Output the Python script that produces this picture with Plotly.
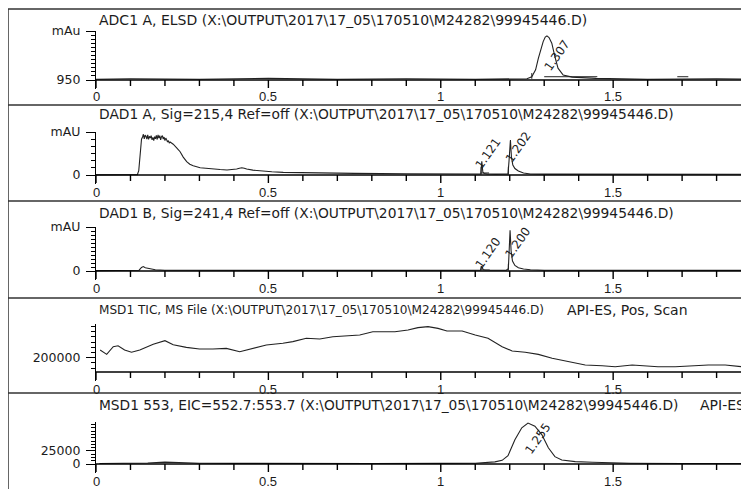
import math
import plotly.graph_objects as go

# the page body adds an 8px margin, so the figure covers the window from (8, 8)
OFF = 8
W, H = 749 - OFF, 489 - OFF

# ---------------- data ----------------
path = r"(X:\OUTPUT\2017\17_05\170510\M24282\99945446.D)"
titles = [
    "ADC1 A, ELSD " + path,
    "DAD1 A, Sig=215,4 Ref=off " + path,
    "DAD1 B, Sig=241,4 Ref=off " + path,
    "MSD1 TIC, MS File " + path,
    "MSD1 553, EIC=552.7:553.7 " + path,
]
title_extra = ["", "", "", "API-ES, Pos, Scan", "API-ES, Pos, Scan"]

x_tick_vals = [0, 0.5, 1, 1.5]
x_tick_text = ["0", "0.5", "1", "1.5"]
x_minor_vals = [0.1, 0.2, 0.3, 0.4, 0.6, 0.7, 0.8, 0.9, 1.1, 1.2, 1.3, 1.4,
                1.6, 1.7, 1.8, 1.9]

# ADC1 A (ELSD)
elsd_t = [0, 0.1, 0.3, 0.5, 0.7, 0.9, 1.1, 1.25, 1.264, 1.275, 1.283, 1.29, 1.297, 1.303,
          1.308, 1.314, 1.322, 1.331, 1.34, 1.355, 1.381, 1.45, 1.6, 1.8, 1.9]
elsd_v = [950.2, 950.3, 950.2, 950.4, 950.2, 950.3, 950.2, 950.3, 950.8, 952.5, 955.3, 957.5,
          959.4, 960.5, 960.8, 960.4, 959.0, 955.7, 952.9, 951.2, 950.7, 950.4, 950.2, 950.3, 950.2]

# DAD1 A
dada_t = [0, 0.05, 0.1, 0.12, 0.124, 0.128, 0.132,
          0.135, 0.1375, 0.14, 0.1425, 0.145, 0.1475, 0.15, 0.1525, 0.155, 0.1575, 0.16,
          0.1625, 0.165, 0.1675, 0.17, 0.1725, 0.175, 0.1775, 0.18, 0.1825, 0.185, 0.1875,
          0.19, 0.1925, 0.195, 0.1975, 0.2, 0.2025, 0.205, 0.2075, 0.21, 0.2125, 0.215,
          0.224, 0.234, 0.244, 0.253, 0.263, 0.272, 0.282, 0.302, 0.32, 0.34, 0.36, 0.38,
          0.395, 0.408, 0.416, 0.423, 0.43, 0.437, 0.455, 0.476, 0.51, 0.543, 0.6, 0.64,
          0.75, 0.9, 1.0, 1.1, 1.116, 1.119, 1.122, 1.126, 1.135, 1.16, 1.19, 1.195, 1.198,
          1.202, 1.205, 1.209, 1.215, 1.225, 1.24, 1.26, 1.3, 1.4, 1.6, 1.8, 1.9]
dada_v = [2, 2, 2, 3, 60, 300, 500,
          530, 568, 505, 556, 540, 500, 560, 498, 540, 515, 550, 490, 525, 480, 535,
          505, 552, 495, 560, 515, 548, 490, 535, 550, 500, 530, 480, 515, 490, 460,
          480, 445, 460,
          430, 380, 325, 250, 186, 150, 130, 102, 92, 84, 76, 70,
          74, 84, 95, 102, 95, 84, 68, 56, 45, 37, 30, 28,
          22, 18, 15, 14, 14, 190, 40, 20, 14, 12, 12, 15, 200,
          488, 250, 140, 90, 55, 28, 15, 12, 10, 10, 10, 10]

# DAD1 B
dadb_t = [0, 0.1, 0.125, 0.132, 0.137, 0.143, 0.153, 0.172, 0.2, 0.3, 0.5, 0.8, 1.0, 1.1,
          1.115, 1.119, 1.123, 1.13, 1.19, 1.196, 1.199, 1.201, 1.204, 1.208, 1.215, 1.225,
          1.24, 1.26, 1.3, 1.5, 1.7, 1.9]
dadb_v = [1, 1, 2, 9, 11, 8, 5.7, 3, 2, 1.5, 1.5, 1.5, 1.5, 1.5,
          2, 12, 3, 2, 2, 6, 60, 102, 50, 25, 14, 8,
          5, 3, 2, 1.5, 1.5, 1.5]

# MSD1 TIC
tic_t = [0.012, 0.031, 0.05, 0.064, 0.083, 0.103, 0.127, 0.166, 0.2, 0.224, 0.262, 0.3,
         0.339, 0.378, 0.417, 0.455, 0.494, 0.542, 0.571, 0.61, 0.649, 0.687, 0.726, 0.765,
         0.803, 0.867, 0.905, 0.934, 0.963, 0.992, 1.018, 1.062, 1.1, 1.137, 1.178, 1.207,
         1.245, 1.283, 1.323, 1.37, 1.419, 1.468, 1.506, 1.555, 1.584, 1.63, 1.68, 1.729,
         1.776, 1.825, 1.874, 1.9]
tic_v = [229800, 213000, 242500, 246000, 230000, 221000, 230000, 252000, 265700, 250000,
         240000, 233600, 233600, 236000, 223000, 236000, 249000, 255600, 262000, 275000,
         272000, 281000, 285000, 287600, 300000, 300000, 307000, 316000, 320000, 313000,
         303000, 303000, 287600, 275000, 242500, 226000, 221000, 213000, 197700, 184700,
         172000, 169000, 165400, 172000, 169000, 165400, 165400, 169000, 172000, 172000,
         165400, 166000]

# MSD1 553 EIC
eic_t = [0.01, 0.05, 0.1, 0.15, 0.2, 0.25, 0.3, 0.4, 0.5, 0.6, 0.8, 1.0, 1.1, 1.157, 1.178,
         1.195, 1.215, 1.235, 1.253, 1.273, 1.293, 1.312, 1.331, 1.351, 1.39, 1.44, 1.486,
         1.55, 1.7, 1.9]
eic_v = [1000, 1200, 1300, 2000, 3500, 2500, 1500, 1200, 1500, 1000, 1000, 1200, 1500, 4000,
         7000, 16000, 46000, 69000, 78000, 72000, 56000, 31000, 14000, 7700, 4500, 3200, 2500,
         1500, 1000, 1000]

# integration baselines (panel index, start, end, level)
base_panel = [0, 0, 1, 2]
base_start = [1.300, 1.686, 1.117, 1.117]
base_end = [1.454, 1.718, 1.140, 1.142]
base_level = [950.8, 950.8, 28, 2.5]
# peak start tick marks (panel index, time, low, high)
tick_panel = [0, 1, 1, 2, 2]
tick_time = [1.264, 1.117, 1.196, 1.117, 1.196]
tick_low = [950.3, 5, 0, 0.5, 0.5]
tick_high = [951.7, 110, 115, 12, 18]

# peak labels (panel index, retention time, apex value)
peak_panel = [0, 1, 1, 2, 2, 4]
peak_rt = [1.307, 1.121, 1.202, 1.120, 1.200, 1.255]
peak_apex = [960.8, 190, 488, 12, 102, 78000]

series_t = [elsd_t, dada_t, dadb_t, tic_t, eic_t]
series_v = [elsd_v, dada_v, dadb_v, tic_v, eic_v]

# y axes (value at the x-axis line, value at the top of the y-axis line)
y_ranges = [[950, 962], [0, 600], [0, 110], [145000, 330000], [0, 80000]]
y_tick_vals = [[950, 962], [0, 600], [0, 110], [200000], [0, 25000]]
y_tick_text = [["950", "mAu"], ["0", "mAU"], ["0", "mAU"], ["200000"], ["0", "25000"]]
y_minor = [1, 100, 10, 20000, 6250]

# ---------------- layout geometry (window pixels) ----------------
base_px = [80, 175, 271, 372, 464]
top_px = [31, 132, 227, 324, 422]
title_px = [20, 114, 213, 310, 405]
title_size = [14, 13.8, 13.8, 12.1, 13.75]
extra_x_px = [0, 0, 0, 565, 698]
border_px = [9, 105, 201, 298, 393]
x0_px = 96
x_max = 1.894
MAJ_LEN, MIN_LEN = 8, 6   # x tick lengths (px)
STRIP = 9                 # plot area extends this far below the x-axis line
LABEL_GAP = 17            # x tick label centre below the x-axis line

def px_y(p):
    return 1 - (p - OFF) / H

def px_x(p):
    return (p - OFF) / W

fig = go.Figure()
lc = "#1c1c1c"
annotations = []
shapes = []
layout = {}

def ax(n):
    return "" if n == 1 else str(n)

for i in range(5):
    m, o = i + 1, i + 6     # main axis, y minor-tick overlay axis
    xa, ya = "x" + ax(m), "y" + ax(m)
    yo = "y" + ax(o)
    lo, hi = y_ranges[i]
    upp = (hi - lo) / (base_px[i] - top_px[i])        # data units per pixel
    ext_range = [lo - STRIP * upp, hi]

    fig.add_trace(go.Scatter(x=series_t[i], y=series_v[i], mode="lines",
                             line=dict(color="#222222", width=1.1),
                             xaxis=xa, yaxis=ya, showlegend=False, hoverinfo="skip"))
    # x-axis line drawn at the bottom value of the panel
    fig.add_trace(go.Scatter(x=[0, x_max], y=[lo, lo], mode="lines",
                             line=dict(color="black", width=1.5),
                             xaxis=xa, yaxis=ya, showlegend=False, hoverinfo="skip"))
    # x tick marks hanging below the axis line
    for vals, ln in ((x_tick_vals, MAJ_LEN), (x_minor_vals, MIN_LEN)):
        tx, ty = [], []
        for v in vals:
            tx += [v, v, None]
            ty += [lo, lo - ln * upp, None]
        fig.add_trace(go.Scatter(x=tx, y=ty, mode="lines",
                                 line=dict(color="black", width=1.4),
                                 xaxis=xa, yaxis=ya, showlegend=False, hoverinfo="skip"))
    # x tick labels
    for v, t in zip(x_tick_vals, x_tick_text):
        annotations.append(dict(text=t, xref=xa, yref="paper", x=v,
                                y=px_y(base_px[i] + LABEL_GAP),
                                xanchor="center", yanchor="middle", showarrow=False,
                                font=dict(family="Liberation Sans", size=13, color=lc)))
    # invisible trace so the y minor tick overlay axis is drawn
    fig.add_trace(go.Scatter(x=series_t[i][:1], y=series_v[i][:1], mode="lines",
                             opacity=0, xaxis=xa, yaxis=yo, showlegend=False, hoverinfo="skip"))

    step = y_minor[i]
    k0 = math.ceil(lo / step - 1e-9)
    minor_vals = []
    k = k0
    while k * step <= hi + 1e-9:
        minor_vals.append(k * step)
        k += 1

    xdom = [px_x(x0_px), 1]
    ydom = [px_y(base_px[i] + STRIP), px_y(top_px[i])]
    layout["xaxis" + ax(m)] = dict(
        domain=xdom, range=[0, x_max], anchor=ya,
        showline=False, ticks="", showticklabels=False,
        showgrid=False, zeroline=False, automargin=False, fixedrange=True)
    layout["yaxis" + ax(m)] = dict(
        domain=ydom, range=ext_range, anchor=xa,
        showline=True, linecolor="black", linewidth=1.2,
        ticks="outside", ticklen=9, tickwidth=1.2, tickcolor="black",
        tickmode="array", tickvals=y_tick_vals[i], ticktext=y_tick_text[i],
        ticklabelstandoff=3,
        tickfont=dict(family="DejaVu Sans", size=12.5, color=lc),
        showgrid=False, zeroline=False, automargin=False, fixedrange=True)
    layout["yaxis" + ax(o)] = dict(
        domain=ydom, range=ext_range, anchor=xa, overlaying=ya,
        showline=False, showticklabels=False,
        ticks="outside", ticklen=4, tickwidth=1, tickcolor="black",
        tickmode="array", tickvals=minor_vals,
        showgrid=False, zeroline=False, automargin=False, fixedrange=True)
    annotations.append(dict(text=titles[i], xref="paper", yref="paper",
                            x=px_x(97), y=px_y(title_px[i]), xanchor="left", yanchor="middle",
                            showarrow=False,
                            font=dict(family="DejaVu Sans", size=title_size[i], color=lc)))
    if title_extra[i]:
        annotations.append(dict(text=title_extra[i], xref="paper", yref="paper",
                                x=px_x(extra_x_px[i]), y=px_y(title_px[i]),
                                xanchor="left", yanchor="middle", showarrow=False,
                                font=dict(family="DejaVu Sans", size=14, color=lc)))
    shapes.append(dict(type="line", xref="paper", yref="paper",
                       x0=px_x(8), x1=1.02, y0=px_y(border_px[i]), y1=px_y(border_px[i]),
                       line=dict(color="#333333", width=1.5)))

shapes.append(dict(type="line", xref="paper", yref="paper", x0=px_x(8), x1=px_x(8),
                   y0=px_y(border_px[0]), y1=-0.02, line=dict(color="#333333", width=1.5)))

# integration baselines
for k in range(len(base_panel)):
    s = ax(base_panel[k] + 1)
    fig.add_trace(go.Scatter(x=[base_start[k], base_end[k]], y=[base_level[k], base_level[k]],
                             mode="lines", line=dict(color="#222222", width=1),
                             xaxis="x" + s, yaxis="y" + s, showlegend=False, hoverinfo="skip"))
for k in range(len(tick_panel)):
    s = ax(tick_panel[k] + 1)
    fig.add_trace(go.Scatter(x=[tick_time[k], tick_time[k]], y=[tick_low[k], tick_high[k]],
                             mode="lines", line=dict(color="#222222", width=1),
                             xaxis="x" + s, yaxis="y" + s, showlegend=False, hoverinfo="skip"))

# peak labels
label_shift = [(10, -20), (6, 8), (8, -7), (6, 13), (8, -13), (9, -16)]
for k in range(len(peak_panel)):
    s = ax(peak_panel[k] + 1)
    dx, dy = label_shift[k]
    annotations.append(dict(text=f"{peak_rt[k]:.3f}", xref="x" + s, yref="y" + s,
                            x=peak_rt[k], y=peak_apex[k], xshift=dx, yshift=dy,
                            xanchor="center", yanchor="middle", showarrow=False,
                            textangle=-55,
                            font=dict(family="DejaVu Sans", size=12, color=lc)))

fig.update_layout(width=W, height=H, margin=dict(l=0, r=0, t=0, b=0, pad=0),
                  autosize=False, template="none",
                  paper_bgcolor="white", plot_bgcolor="white",
                  annotations=annotations, shapes=shapes, showlegend=False, **layout)

fig.write_html("out.html")
